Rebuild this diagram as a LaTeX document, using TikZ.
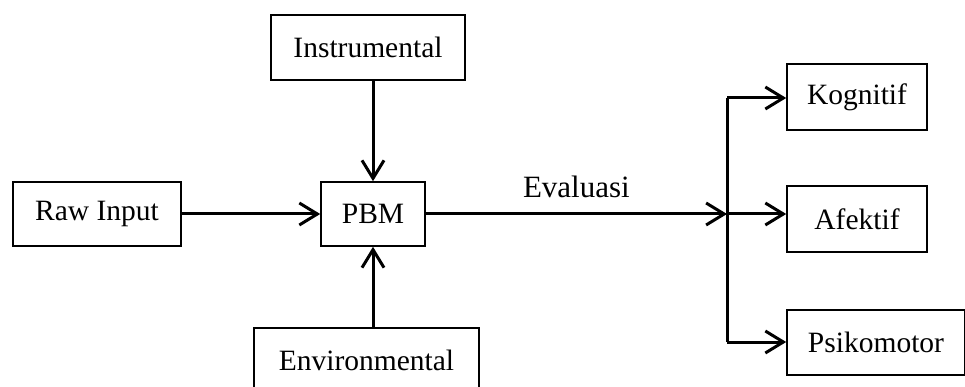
\documentclass[tikz,border=0pt]{standalone}
\usepackage{fontspec}
\setmainfont{Liberation Serif}
\usetikzlibrary{arrows.meta}
\begin{document}
\begin{tikzpicture}[x=1pt,y=-1pt,
  box/.style={draw,line width=1.6pt,inner sep=0pt,font=\fontsize{29.5}{32}\selectfont},
  conn/.style={line width=3pt,-{Straight Barb[length=18pt,width=22pt,line width=3pt]}},
  plain/.style={line width=3pt}]
\useasboundingbox (0,0) rectangle (965,387);
\node[box,minimum width=194pt,minimum height=65pt] (instr) at (368,47.5) {Instrumental};
\node[box,minimum width=168pt,minimum height=64pt] (raw) at (97,214) {Raw Input};
\node[box,minimum width=104pt,minimum height=64pt] (pbm) at (373,214) {PBM};
\node[box,minimum width=225pt,minimum height=64pt] (env) at (366.5,360) {Environmental};
\node[box,minimum width=140pt,minimum height=66pt] (kog) at (857,97) {Kognitif};
\node[box,minimum width=140pt,minimum height=66pt] (afe) at (857,219) {Afektif};
\node[box,minimum width=178pt,minimum height=65pt] (psi) at (876,342.5) {Psikomotor};
\coordinate (j) at (727,214);
\coordinate (jt) at (727,98);
\coordinate (jb) at (727,342);
\draw[conn] (raw.east) -- (pbm.west);
\draw[conn] (instr.south -| pbm.north) -- (pbm.north);
\draw[conn] (env.north -| pbm.south) -- (pbm.south);
\draw[conn] (pbm.east) -- node[above=11pt,font=\fontsize{31}{34}\selectfont] {Evaluasi} (j);
\draw[plain] (jt) -- (jb);
\draw[conn] (jt) -- (jt -| kog.west);
\draw[conn] (j) -- (j -| afe.west);
\draw[conn] (jb) -- (jb -| psi.west);
\end{tikzpicture}
\end{document}
